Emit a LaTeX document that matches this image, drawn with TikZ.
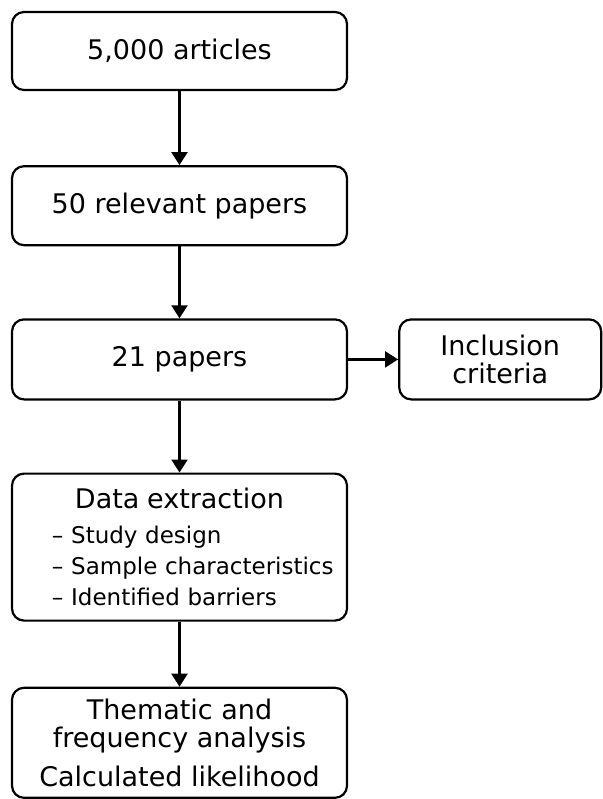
\documentclass[tikz,border=0pt]{standalone}
\usepackage{fontspec}
\setmainfont{DejaVu Sans}
\usetikzlibrary{positioning,arrows.meta}

\tikzset{
  box/.style={draw=black, line width=1.1pt, rounded corners=6pt, minimum width=167.5pt,
    inner sep=0pt, align=center, font=\fontsize{13.5}{14}\selectfont},
  flow/.style={-{Triangle[length=6.5pt,width=8pt]}, line width=1.1pt, black}
}
\newcommand{\listline}[1]{\makebox[167.5pt][l]{\hspace{20pt}#1}}

\begin{document}
\begin{tikzpicture}
  \useasboundingbox (0,0) rectangle (301.5pt,-399.5pt);
  \node [box, minimum height=39pt] (articles) at (89.75pt,-25.5pt) {5,000 articles};
  \node [box, minimum height=39.5pt, below=37pt of articles] (relevant) {50 relevant papers};
  \node [box, minimum height=40pt, below=36pt of relevant] (papers) {21 papers};
  \node [box, minimum width=101pt, minimum height=40pt, right=25pt of papers] (criteria) {Inclusion\\criteria};
  \node [box, minimum height=73.5pt, text width=167.5pt, below=36pt of papers,
    font=\fontsize{11.5}{15.5}\selectfont] (extract)
    {{\fontsize{13.5}{14}\selectfont Data extraction}\\[2pt]
     \listline{– Study design}\\
     \listline{– Sample characteristics}\\
     \listline{– Identified barriers}};
  \node [box, minimum height=55pt, below=32.5pt of extract] (analysis)
    {Thematic and\\frequency analysis\\[5.5pt]Calculated likelihood};
  \draw [flow] (articles) -- (relevant);
  \draw [flow] (relevant) -- (papers);
  \draw [flow] (papers) -- (criteria);
  \draw [flow] (papers) -- (extract);
  \draw [flow] (extract) -- (analysis);
\end{tikzpicture}
\end{document}
